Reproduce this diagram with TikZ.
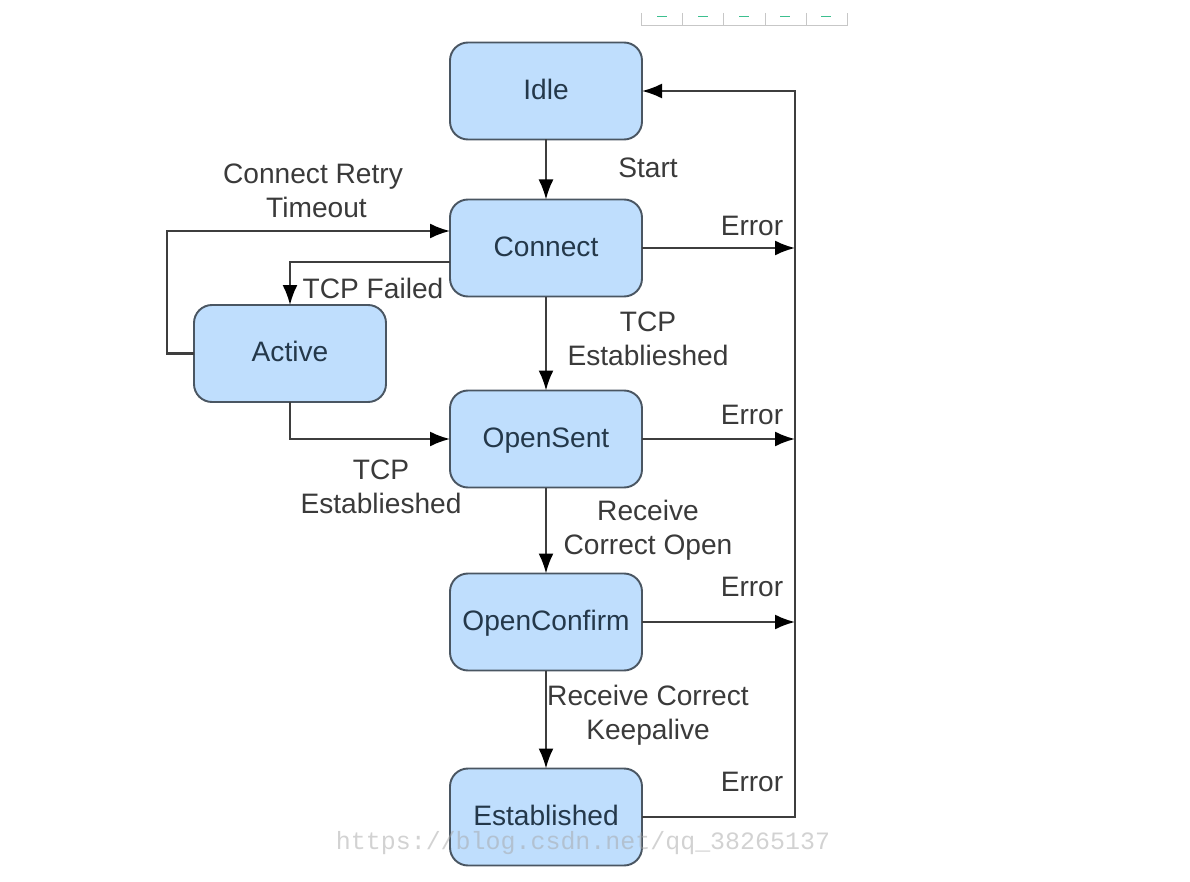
\documentclass[tikz,border=0pt]{standalone}
\usepackage{fontspec}
\setmainfont{Liberation Sans}
\newfontfamily\markfont{Liberation Mono}
\usetikzlibrary{positioning, arrows.meta}
\definecolor{boxfill}{HTML}{BFDEFD}
\definecolor{boxline}{HTML}{4A5662}
\definecolor{wire}{HTML}{3E3E3E}
\definecolor{boxtext}{HTML}{24384A}
\definecolor{labeltext}{HTML}{3A3A3A}
\definecolor{tabgreen}{HTML}{3CBF8F}

\begin{document}
\begin{tikzpicture}[
    >={Latex[length=0.4cm,width=0.3cm,color=black]},
    state/.style={draw=boxline, line width=1.1pt, fill=boxfill, rounded corners=0.36cm, minimum width=3.84cm, minimum height=1.94cm, outer sep=0pt, text=boxtext, text height=11.5pt, text depth=2.3pt, font=\fontsize{16}{19.3}\selectfont},
    note/.style={align=center, text=labeltext, inner sep=0pt, font=\fontsize{16}{19.3}\selectfont},
    wireline/.style={draw=wire, line width=1.2pt},
    tab/.style={draw=black!22, line width=0.5pt},
    tabmark/.style={draw=tabgreen, line width=0.7pt},
]
\useasboundingbox (0,0) rectangle (23.8,-17.64);

% toolbar scrap at the top
\draw[tab] (12.82,-0.26) -- (12.82,-0.5) -- (16.94,-0.5) -- (16.94,-0.26);
\foreach \x in {13.64,14.46,15.3,16.12} {
    \draw[tab] (\x,-0.26) -- (\x,-0.5);
}
\foreach \x in {13.24,14.06,14.88,15.7,16.52} {
    \draw[tabmark] (\x-0.1,-0.33) -- (\x+0.1,-0.33);
}

\node[state] at (10.92,-1.82) (idle) {Idle};
\node[state, below=1.2cm of idle] (connect) {Connect};
\node[state, below=1.88cm of connect] (opensent) {OpenSent};
\node[state, below=1.72cm of opensent] (openconfirm) {OpenConfirm};
\node[state, below=1.96cm of openconfirm] (established) {Established};
\node[state] at (5.8,-7.07) (active) {Active};

\coordinate (errorbus) at (15.9,0);
\coordinate (retryloop) at (3.34,0);
\coordinate (failedrun) at ([yshift=-0.28cm]connect.west);
\coordinate (retryin) at ([yshift=0.34cm]connect.west);

\draw[wireline,->] (idle) -- (connect);
\draw[wireline,->] (connect) -- (opensent);
\draw[wireline,->] (opensent) -- (openconfirm);
\draw[wireline,->] (openconfirm) -- (established);
\draw[wireline,->] (connect.east) -- (connect.east -| errorbus);
\draw[wireline,->] (opensent.east) -- (opensent.east -| errorbus);
\draw[wireline,->] (openconfirm.east) -- (openconfirm.east -| errorbus);
\draw[wireline,->] (established.east) -- (established.east -| errorbus) |- (idle.east);
\draw[wireline,->] (active.west) -- (active.west -| retryloop) |- (retryin);
\draw[wireline,->] (failedrun) -| (active.north);
\draw[wireline,->] (active.south) |- (opensent.west);

\node[note] at (12.96,-3.36) (startlabel) {Start};
\node[note] at (6.26,-3.82) (retrylabel) {Connect Retry\\\hspace*{0.14cm}Timeout};
\node[note] at (7.46,-5.76) (failedlabel) {TCP Failed};
\node[note] at (12.96,-6.78) (tcplabela) {TCP\\Establieshed};
\node[note] at (7.62,-9.74) (tcplabelb) {TCP\\Establieshed};
\node[note] at (12.96,-10.6) (openlabel) {Receive\\Correct Open};
\node[note] at (12.96,-14.3) (keepalivelabel) {Receive Correct\\Keepalive};
\node[note] at (15.04,-4.52) (errora) {Error};
\node[note] at (15.04,-8.3) (errorb) {Error};
\node[note] at (15.04,-11.74) (errorc) {Error};
\node[note] at (15.04,-15.64) (errord) {Error};

% watermark
\node[inner sep=0pt, text=black!35, opacity=0.5, font=\markfont\fontsize{14.2}{16}\selectfont] at (11.66,-16.86) (watermark) {https://blog.csdn.net/qq\_38265137};
\end{tikzpicture}
\end{document}
